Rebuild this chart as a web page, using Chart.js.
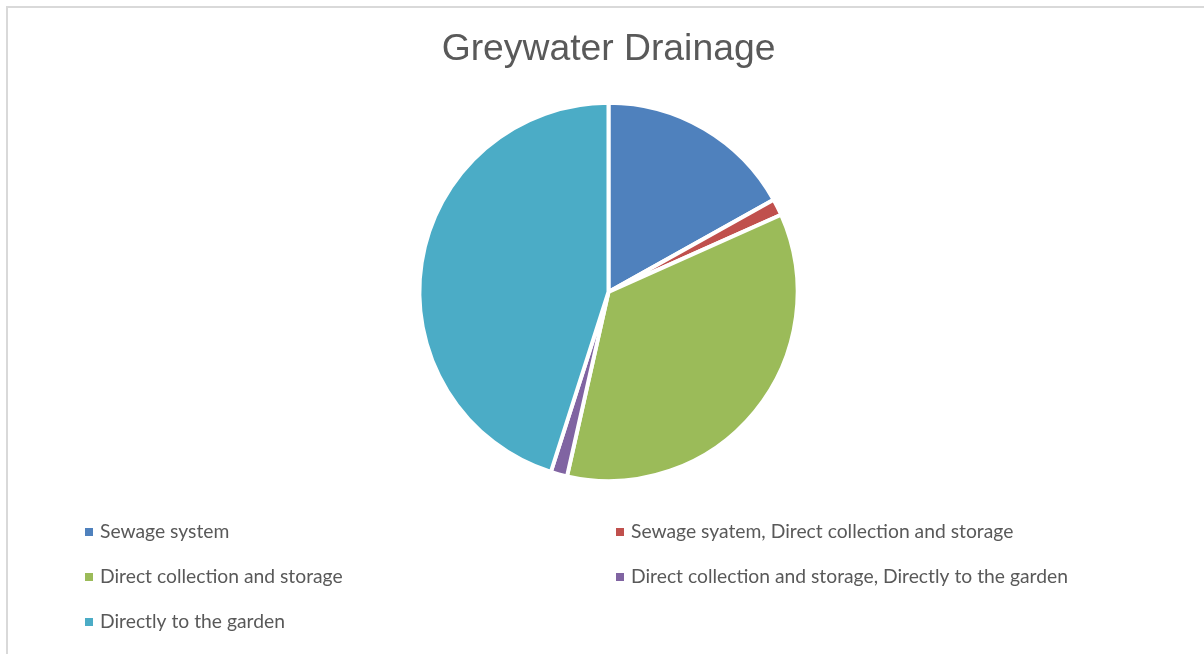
<!DOCTYPE html>
<html>
<head>
<meta charset="utf-8">
<title>Greywater Drainage</title>
<script src="https://cdn.jsdelivr.net/npm/chart.js@4.4.1/dist/chart.umd.min.js"></script>
<style>
  html, body { margin: 0; padding: 0; background: #ffffff; }
  #wrap { width: 1204px; height: 654px; position: relative; }
</style>
</head>
<body>
<div id="wrap"><canvas id="chart" width="1204" height="654"></canvas></div>
<script>
// Survey answers: where households drain their greywater
const chartTitle = 'Greywater Drainage';
const categories = [
  'Sewage system',
  'Sewage syatem, Direct collection and storage',
  'Direct collection and storage',
  'Direct collection and storage, Directly to the garden',
  'Directly to the garden'
];
const households = [12, 1, 25, 1, 32];
const sliceColors = ['#4F81BD', '#C0504D', '#9BBB59', '#8064A2', '#4BACC6'];

// Light frame around the chart area
const framePlugin = {
  id: 'frame',
  beforeDraw(chart) {
    const ctx = chart.ctx;
    ctx.save();
    ctx.fillStyle = '#ffffff';
    ctx.fillRect(0, 0, chart.width, chart.height);
    ctx.strokeStyle = '#d9d9d9';
    ctx.lineWidth = 2;
    ctx.strokeRect(7, 7, chart.width + 10, chart.height + 10);
    ctx.restore();
  }
};

// Two-column legend under the pie
const gridLegend = {
  id: 'gridLegend',
  afterDraw(chart, args, opts) {
    const ctx = chart.ctx;
    const ds = chart.data.datasets[0];
    ctx.save();
    ctx.font = opts.font;
    ctx.textBaseline = 'middle';
    ctx.textAlign = 'left';
    chart.data.labels.forEach((label, i) => {
      const col = i % 2;
      const row = Math.floor(i / 2);
      const x = opts.columns[col];
      const y = opts.top + row * opts.rowHeight;
      ctx.fillStyle = ds.backgroundColor[i];
      ctx.fillRect(x, y - opts.box / 2, opts.box, opts.box);
      ctx.fillStyle = opts.color;
      ctx.fillText(label, x + opts.gap, y);
    });
    ctx.restore();
  }
};

new Chart(document.getElementById('chart'), {
  type: 'pie',
  data: {
    labels: categories,
    datasets: [{
      data: households,
      backgroundColor: sliceColors,
      borderColor: '#ffffff',
      borderWidth: 4,
      hoverOffset: 0
    }]
  },
  options: {
    responsive: false,
    animation: false,
    layout: { padding: { top: 0, left: 13, right: 0, bottom: 171 } },
    plugins: {
      legend: { display: false },
      tooltip: { enabled: false },
      title: {
        display: true,
        text: chartTitle,
        color: '#595959',
        font: { family: '"Liberation Sans", Arial, sans-serif', size: 37.3, weight: 'normal', lineHeight: 1.2 },
        padding: { top: 27, bottom: 29 }
      },
      gridLegend: {
        font: '19.3px Lato, "Open Sans", sans-serif',
        color: '#595959',
        columns: [85, 616],
        top: 532,
        rowHeight: 45,
        box: 8,
        gap: 15
      }
    }
  },
  plugins: [framePlugin, gridLegend]
});
</script>
</body>
</html>
